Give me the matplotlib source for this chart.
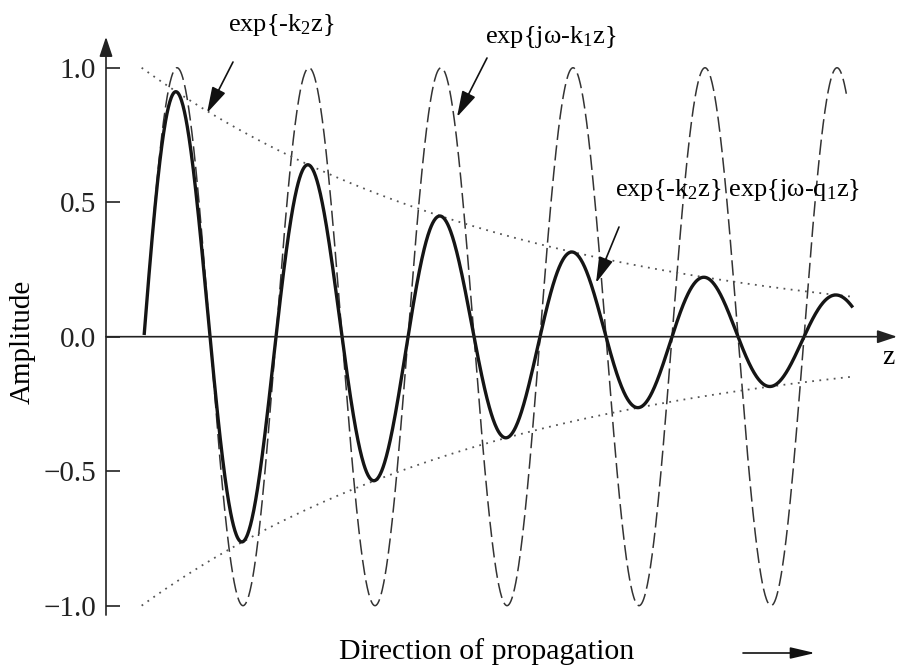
import numpy as np
import matplotlib
matplotlib.use("Agg")
import matplotlib.pyplot as plt

plt.rcParams['font.family'] = ['Liberation Serif', 'DejaVu Serif']
plt.rcParams['mathtext.fontset'] = 'custom'
plt.rcParams['mathtext.rm'] = 'Liberation Serif'
plt.rcParams['mathtext.it'] = 'Liberation Serif'

# ---- parameters (z in units of one wave period) ----
wave_period = 1.0
peak_z = 0.538          # z of first crest of the undamped wave
k2 = 0.354              # envelope decay per period
env_z_range = [0.27, 5.65]
solid_z_range = [0.29, 5.65]
dash_z_range = [0.29, 5.61]
env_start = 0.27

ytick_vals = [-1.0, -0.5, 0.0, 0.5, 1.0]
ytick_labels = ['\u22121.0', '\u22120.5', '0.0', '0.5', '1.0']

W, H = 897, 668
fig = plt.figure(figsize=(W / 100, H / 100), dpi=100)
x_px0, x_px1 = 106, 897
y0_px, ppu = 336.7, 268.95
ylim = (-1.05, 1.12)
bottom_px = y0_px - ylim[0] * ppu
top_px = y0_px - ylim[1] * ppu
ax = fig.add_axes([x_px0 / W, 1 - bottom_px / H, (x_px1 - x_px0) / W, (bottom_px - top_px) / H])
xmax = (x_px1 - x_px0) / 132.0
ax.set_xlim(0, xmax)
ax.set_ylim(*ylim)
for s in ax.spines.values():
    s.set_visible(False)
ax.set_facecolor('none')

def env(z):
    return np.exp(-k2 * (z - env_start))

def wave(z):
    return np.cos(2 * np.pi * (z - peak_z) / wave_period)

ze = np.linspace(env_z_range[0], env_z_range[1], 600)
zs = np.linspace(solid_z_range[0], solid_z_range[1], 1500)
zd = np.linspace(dash_z_range[0], dash_z_range[1], 1500)

ax.plot(zd, wave(zd), color='#333333', lw=1.1, linestyle=(0, (10, 3.5)))
ax.plot(ze, env(ze), color='#555555', lw=1.3, linestyle=(0, (1, 3)))
ax.plot(ze, -env(ze), color='#555555', lw=1.3, linestyle=(0, (1, 3)))
ax.plot(zs, env(zs) * wave(zs), color='#151515', lw=2.4)

# axes with arrows
ax.annotate('', xy=(xmax, 0), xytext=(0, 0),
            arrowprops=dict(arrowstyle='-|>,head_length=1.2,head_width=0.4', lw=1.2,
                            color='#222222', mutation_scale=10, shrinkA=0, shrinkB=0))
ax.annotate('', xy=(0, 1.115), xytext=(0, -1.035),
            arrowprops=dict(arrowstyle='-|>,head_length=1.2,head_width=0.4', lw=1.2,
                            color='#222222', mutation_scale=10, shrinkA=0, shrinkB=0))

ax.set_xticks([])
ax.set_yticks(ytick_vals)
ax.set_yticklabels(ytick_labels)
ax.tick_params(axis='y', direction='in', length=10, width=1.2, pad=7, labelsize=21, colors='#222222')

def px2d(px, py):
    return ((px - x_px0) / 132.0, (y0_px - py) / ppu)

fig.text(23 / W, 1 - 342 / H, 'Amplitude', rotation=90, ha='center', va='center', fontsize=21)
ax.text(*px2d(888, 357), 'z', ha='center', va='center', fontsize=20)
fig.text(487 / W, 1 - 652 / H, 'Direction of propagation', ha='center', va='center', fontsize=21.5)
ax.annotate('', xy=px2d(815, 653), xytext=px2d(743, 653), annotation_clip=False,
            arrowprops=dict(arrowstyle='-|>,head_length=1.5,head_width=0.35', lw=1.2,
                            color='#111111', mutation_scale=10, shrinkA=0, shrinkB=0))

anns = [
    ('exp{-k$_2$z}', (281, 25), (233, 62), (207, 113)),
    ('exp{j\u03c9-k$_1$z}', (551, 37), (487, 58), (457, 117)),
    ('exp{-k$_2$z} exp{j\u03c9-q$_1$z}', (738, 190), (619, 227), (596, 283)),
]
for txt, tp, a0, a1 in anns:
    ax.text(*px2d(*tp), txt, ha='center', va='center', fontsize=19, clip_on=False)
    ax.annotate('', xy=px2d(*a1), xytext=px2d(*a0), annotation_clip=False,
                arrowprops=dict(arrowstyle='-|>,head_length=1.6,head_width=0.45', lw=1.2,
                                color='#111111', mutation_scale=10, shrinkA=0, shrinkB=0))

fig.savefig('out.png', dpi=100)
